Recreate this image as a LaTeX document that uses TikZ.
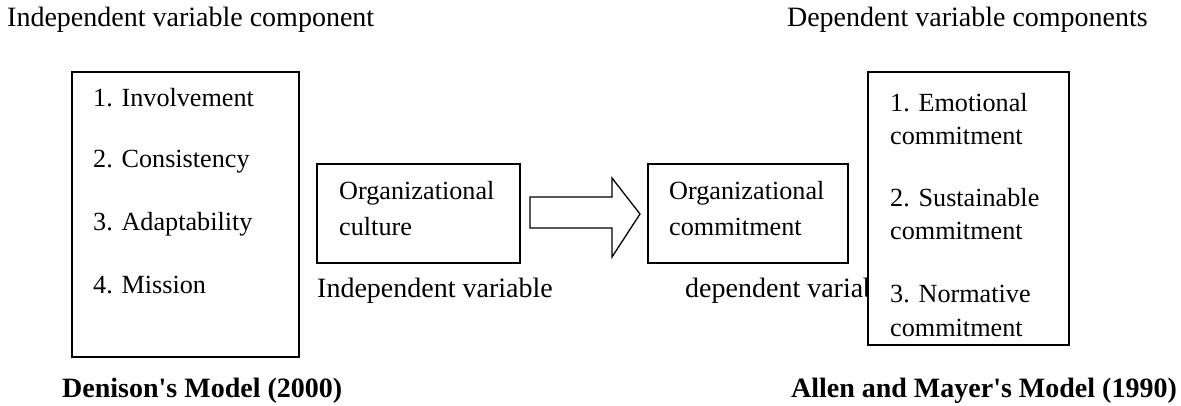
\documentclass[tikz,border=0pt]{standalone}
\usepackage{fontspec}
\setmainfont{Liberation Serif}[Ligatures=TeXOff]
\begin{document}
\begin{tikzpicture}[x=1pt,y=-1pt,
  box/.style={draw=black,line width=1.3pt,fill=white},
  item/.style={anchor=base west,inner sep=0pt,font=\fontsize{26.2}{30}\selectfont},
  lbl/.style={anchor=base west,inner sep=0pt,font=\fontsize{28}{33}\selectfont},
  ttl/.style={anchor=base west,inner sep=0pt,font=\fontsize{28}{33}\selectfont\bfseries}]
\useasboundingbox (0,0) rectangle (1181,406);
% titles
\node[lbl] (tl) at (7,27) {Independent variable component};
\node[lbl,anchor=base east] (tr) at (1148,27) {Dependent variable components};
% left box
\draw[box] (72,72) rectangle (299,357);
\node[item] (i1) at (93,107) {1. Involvement};
\node[item] (i2) at (93,168) {2. Consistency};
\node[item] (i3) at (93,231) {3. Adaptability};
\node[item] (i4) at (93,293) {4. Mission};
% org culture
\draw[box] (317,164) rectangle (520,263);
\node[item] (oc1) at (339,200) {Organizational};
\node[item] (oc2) at (339,236) {culture};
\node[lbl] (iv) at (317,297) {Independent variable};
% arrow
\draw[line width=1.3pt,line join=miter] (530,197) -- (612,197) -- (612,178) -- (640,214) -- (612,257) -- (612,228) -- (530,228) -- cycle;
% org commitment
\draw[box] (648,164) rectangle (848,263);
\node[item] (om1) at (669,200) {Organizational};
\node[item] (om2) at (669,236) {commitment};
\node[lbl] (dv) at (685,297) {dependent variable};
% right box
\draw[box] (868,72) rectangle (1069,345);
\begin{scope}
\clip (868,72) rectangle (1069,336);
\node[item] (r1) at (890,112) {1. Emotional};
\node[item] (r2) at (890,145) {commitment};
\node[item] (r3) at (890,207) {2. Sustainable};
\node[item] (r4) at (890,240) {commitment};
\node[item] (r5) at (890,302) {3. Normative};
\node[item] (r6) at (890,336.5) {commitment};
\end{scope}
% bottom titles
\node[ttl] (dm) at (62,397) {Denison's Model (2000)};
\node[ttl,anchor=base east] (am) at (1177,397) {Allen and Mayer's Model (1990)};
\end{tikzpicture}
\end{document}
